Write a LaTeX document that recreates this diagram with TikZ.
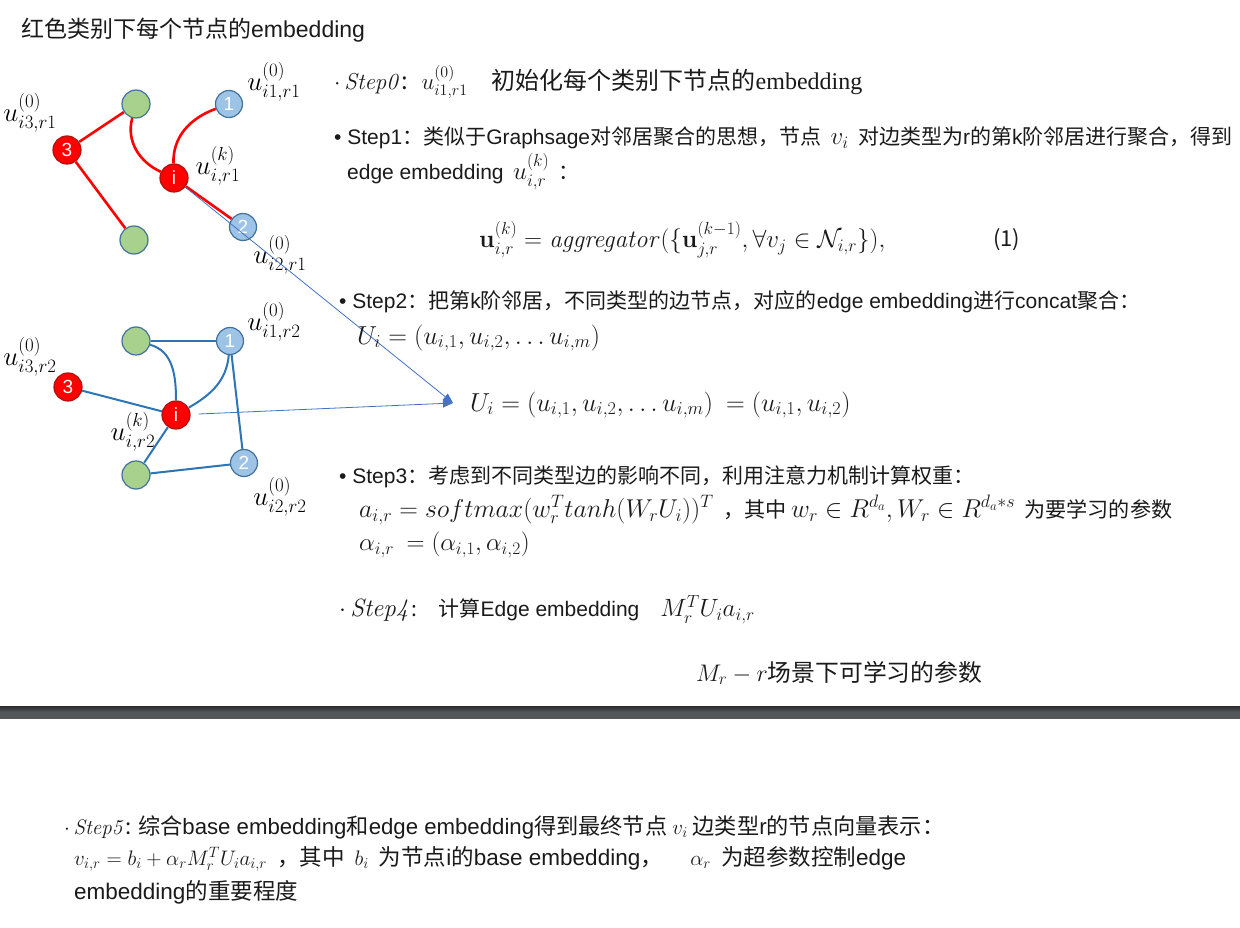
\RequirePackage{fix-cm}
\documentclass[tikz,border=0pt]{standalone}
\usepackage{amsmath,amssymb}
\usepackage[no-math]{fontspec}
\setmainfont{Noto Sans CJK SC}
\newfontfamily\ls{Liberation Sans}
\newfontfamily\lsr{Liberation Serif}
\usetikzlibrary{arrows.meta}
\DeclareMathSizes{21}{25}{17.5}{12.5}
\DeclareMathSizes{21.1}{25.8}{18}{13}
\DeclareMathSizes{22.5}{21}{15}{11}
\DeclareMathSizes{22.2}{21}{15}{11}
\DeclareMathSizes{24}{23}{16}{12}
\DeclareMathSizes{23.8}{24}{17}{12}
\definecolor{nodeblue}{HTML}{9DC3E6}
\definecolor{outl}{HTML}{41719C}
\definecolor{nodegreen}{HTML}{A9D18E}
\definecolor{edgeblue}{HTML}{2E75B6}
\definecolor{arrblue}{HTML}{4472C4}
\definecolor{redout}{HTML}{B01010}
\definecolor{txt}{HTML}{1A1A1A}
\definecolor{barA}{HTML}{2A2C2F}
\definecolor{barB}{HTML}{53575A}
\newcommand{\fsA}{\fontsize{23}{27}\selectfont}
\newcommand{\fsB}{\fontsize{21}{25}\selectfont}
\newcommand{\fsT}{\fontsize{21.1}{25}\selectfont}
\newcommand{\fsS}{\fontsize{24}{28}\selectfont}
\newcommand{\fsM}{\fontsize{23.8}{28}\selectfont}
\newcommand{\fsF}{\fontsize{22.5}{27}\selectfont}
\newcommand{\fsG}{\fontsize{22.2}{27}\selectfont}
\newcommand{\fsL}{\fontsize{27}{30}\selectfont}
\tikzset{
  gnode/.style={circle,draw=outl,fill=nodegreen,line width=1.2pt,minimum size=28pt,inner sep=0pt},
  bnode/.style={circle,draw=outl,fill=nodeblue,line width=1.2pt,minimum size=27pt,inner sep=0pt,text=white,font=\ls\fontsize{19}{19}\selectfont},
  rnode/.style={circle,draw=redout,fill=red,line width=1.2pt,minimum size=28pt,inner sep=0pt,text=white,font=\ls\fontsize{19}{19}\selectfont},
  redge/.style={draw=red,line width=2.6pt},
  bedge/.style={draw=edgeblue,line width=2pt},
  thinarr/.style={draw=arrblue,line width=0.8pt},
  lbl/.style={inner sep=0pt,font=\fsL},
  txtnode/.style={anchor=west,inner sep=0pt,text=txt},
}
\begin{document}
\begin{tikzpicture}[x=1pt,y=-1pt]
\useasboundingbox[fill=white] (0,0) rectangle (1240,928);

% ---------- top graph (red edges) ----------
\node[gnode] (gt1) at (136,104) {};
\node[bnode] (n11) at (229,104) {1};
\node[rnode] (n31) at (67,150) {3};
\node[rnode] (i1) at (174,178) {i};
\node[bnode] (n21) at (243,227) {2};
\node[gnode] (gb1) at (134,240) {};
\draw[redge] (n31) -- (gt1);
\draw[redge] (n31) -- (gb1);
\draw[redge] (gt1) to[out=-105,in=155] (i1);
\draw[redge] (i1) to[out=92,in=200] (n11);
\draw[redge] (i1) -- (n21);
\node[lbl] (l11) at (274,82) {$u^{(0)}_{i1,r1}$};
\node[lbl] (l31) at (30,113) {$u^{(0)}_{i3,r1}$};
\node[lbl] (lk1) at (218,166) {$u^{(k)}_{i,r1}$};
\node[lbl] (l21) at (280,255) {$u^{(0)}_{i2,r1}$};

% ---------- bottom graph (blue edges) ----------
\node[gnode] (gt2) at (136,341) {};
\node[bnode] (n12) at (230,341) {1};
\node[rnode] (n32) at (68,387) {3};
\node[rnode] (i2) at (176,415) {i};
\node[bnode] (n22) at (244,463) {2};
\node[gnode] (gb2) at (136,475) {};
\draw[bedge] (gt2) -- (n12);
\draw[bedge] (gt2) to[out=-15,in=90] (i2);
\draw[bedge] (n32) -- (i2);
\draw[bedge] (i2) to[out=30,in=-95] (n12);
\draw[bedge] (n12) -- (n22);
\draw[bedge] (i2) -- (gb2);
\draw[bedge] (gb2) -- (n22);
\node[lbl] (l12) at (274,322) {$u^{(0)}_{i1,r2}$};
\node[lbl] (l32) at (30,357) {$u^{(0)}_{i3,r2}$};
\node[lbl] (lk2) at (133,432) {$u^{(k)}_{i,r2}$};
\node[lbl] (l22) at (280,497) {$u^{(0)}_{i2,r2}$};

% ---------- arrows ----------
\coordinate (tip) at (453,403);
\draw[thinarr,-{Triangle[length=10pt,width=8pt]}] (i1) -- (tip);
\draw[thinarr,shorten <=8pt,-{Triangle[length=10pt,width=8pt]}] (i2) -- (tip);

% ---------- texts ----------
\node[txtnode,font=\fsA] (title) at (21,30) {红色类别下每个节点的{\ls embedding}};
\node[txtnode,font=\fsS] (s0) at (334,82) {$\cdot\,\mathit{Step0}$:\; $u^{(0)}_{i1,r1}$\quad 初始化每个类别下节点的{\lsr embedding}};
\node[txtnode,font=\fsB] (s1) at (334,138) {{\ls • Step1}：类似于{\ls Graphsage}对邻居聚合的思想，节点\ \ $v_i$\ \ 对边类型为{\ls r}的第{\ls k}阶邻居进行聚合，得到};
\node[txtnode,font=\fsB] (s1b) at (347,172) {{\ls edge embedding}\ \ $u^{(k)}_{i,r}$\ \ ：};
\node[txtnode,font=\fontsize{25}{29}\selectfont] (eq1) at (479,240) {$\mathbf{u}^{(k)}_{i,r} = \mathit{aggregator}(\{\mathbf{u}^{(k-1)}_{j,r}, \forall v_j \in \mathcal{N}_{i,r}\}),$};
\node[txtnode,font=\fontsize{22}{26}\selectfont] (eqn) at (993,240) {(1)};
\node[txtnode,font=\fsB] (s2) at (339,302) {{\ls • Step2}：把第{\ls k}阶邻居，不同类型的边节点，对应的{\ls edge embedding}进行{\ls concat}聚合：};
\node[txtnode,font=\fontsize{26}{30}\selectfont] (u1) at (357,338) {$U_i = (u_{i,1}, u_{i,2}, \ldots u_{i,m})$};
\node[txtnode,font=\fontsize{26}{30}\selectfont] (u2) at (470,405) {$U_i = (u_{i,1}, u_{i,2}, \ldots u_{i,m})\ = (u_{i,1}, u_{i,2})$};
\node[txtnode,font=\fsB] (s3) at (339,477) {{\ls • Step3}：考虑到不同类型边的影响不同，利用注意力机制计算权重：};
\node[txtnode,font=\fsT] (s3b) at (359,510) {$a_{i,r} = softmax(w_r^T tanh(W_r U_i))^T$\ \ ，其中\ $w_r \in R^{d_a}, W_r \in R^{d_a * s}$\ \ 为要学习的参数};
\node[txtnode,font=\fontsize{25}{29}\selectfont] (s3c) at (359,545) {$\alpha_{i,r}\ = (\alpha_{i,1}, \alpha_{i,2})$};
\node[txtnode,font=\fsB] (s4) at (339,610) {$\cdot\,\mathit{Step4}$:\quad 计算{\ls Edge embedding}\quad $M_r^T U_i a_{i,r}$};
\node[txtnode,font=\fsM] (mr) at (696,673) {$M_r - r$场景下可学习的参数};

% ---------- separator ----------
\shade[top color=barA,bottom color=barB,middle color=barB] (0,706) rectangle (1240,718);

% ---------- step 5 ----------
\node[txtnode,font=\fsG] (s5) at (64,827) {$\cdot\,\mathit{Step5}$: 综合{\ls base embedding}和{\ls edge embedding}得到最终节点 $v_i$ 边类型{\ls r}的节点向量表示：};
\node[txtnode,font=\fsF] (s5b) at (74,859) {$v_{i,r} = b_i + \alpha_r M_r^T U_i a_{i,r}$\ \ ，其中\ \ $b_i$\ \ 为节点{\ls i}的{\ls base embedding}，\quad\ $\alpha_r$\ \ 为超参数控制{\ls edge}};
\node[txtnode,font=\fsF] (s5c) at (74,892) {{\ls embedding}的重要程度};
\end{tikzpicture}
\end{document}
